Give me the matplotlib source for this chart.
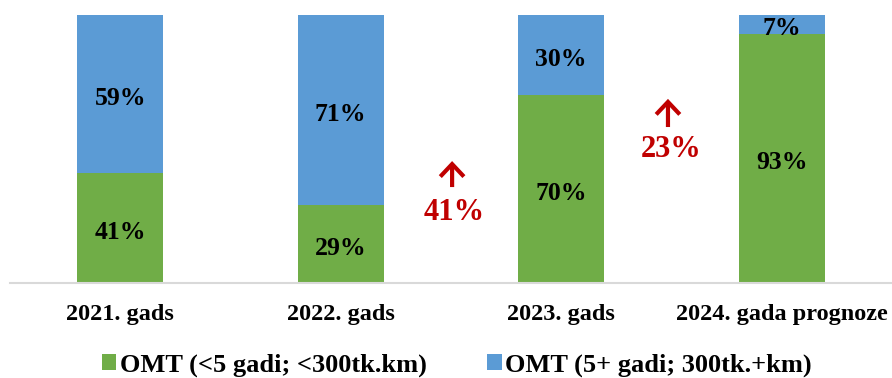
import matplotlib
matplotlib.use("Agg")
import matplotlib.pyplot as plt
import numpy as np

categories = ["2021. gads", "2022. gads", "2023. gads", "2024. gada prognoze"]
share_short = [41, 29, 70, 93]   # OMT (<5 gadi; <300tk.km)
share_long = [59, 71, 30, 7]     # OMT (5+ gadi; 300tk.+km)
series_names = ["OMT (<5 gadi; <300tk.km)", "OMT (5+ gadi; 300tk.+km)"]
growth_labels = ["41%", "23%"]

GREEN = "#70AD47"
BLUE = "#5B9BD5"
RED = "#C00000"
FONT = "Liberation Serif"

fig = plt.figure(figsize=(8.92, 3.78), dpi=100)
ax = fig.add_axes([10 / 892, 1 - 283 / 378, 882 / 892, 268 / 378])

x = np.arange(len(categories))
low = np.array(share_short) / 100
high = np.array(share_long) / 100
w = 0.39
ax.bar(x, low, w, color=GREEN, label=series_names[0], zorder=2)
ax.bar(x, high, w, bottom=low, color=BLUE, label=series_names[1], zorder=2)

label_kw = dict(ha="center", va="center", fontsize=18.5, fontweight="bold",
                family=FONT, color="black", zorder=3,
                textcoords="offset points", xytext=(0, -3))
for i in range(len(categories)):
    ax.annotate(f"{share_short[i]}%", xy=(x[i], low[i] / 2), **label_kw)
    ax.annotate(f"{share_long[i]}%", xy=(x[i], low[i] + high[i] / 2), **label_kw)

# growth markers between bars: (arrow x, text x, text y, arrow start, arrow end)
growth_pos = [(1.505, 1.514, 0.262, 0.358, 0.455),
              (2.484, 2.500, 0.497, 0.582, 0.687)]
for (ax_x, tx, ty, a0, a1), lab in zip(growth_pos, growth_labels):
    ax.annotate("", xy=(ax_x, a1), xytext=(ax_x, a0),
                arrowprops=dict(arrowstyle="->,head_length=0.9,head_width=0.85",
                                color=RED, lw=3, shrinkA=0, shrinkB=0,
                                mutation_scale=10, joinstyle="miter",
                                capstyle="butt"))
    ax.text(tx, ty, lab, ha="center", va="center", fontsize=22,
            fontweight="bold", family=FONT, color=RED)

ax.set_xlim(-0.5, 3.5)
ax.set_ylim(0, 1)
ax.set_yticks([])
ax.set_xticks(x)
ax.set_xticklabels(categories, fontsize=17.5, fontweight="bold", family=FONT)
ax.tick_params(axis="x", length=0, pad=15)
for s in ["top", "right", "left"]:
    ax.spines[s].set_visible(False)
ax.spines["bottom"].set_color("#D9D9D9")
ax.spines["bottom"].set_linewidth(1.5)

leg = fig.legend(loc="center", bbox_to_anchor=(0.512, 1 - 365 / 378), ncol=2,
                 frameon=False, prop=dict(family=FONT, weight="bold", size=19),
                 handlelength=0.55, handleheight=0.55, handletextpad=0.12,
                 columnspacing=2.3)

fig.savefig("out.png", dpi=100)
